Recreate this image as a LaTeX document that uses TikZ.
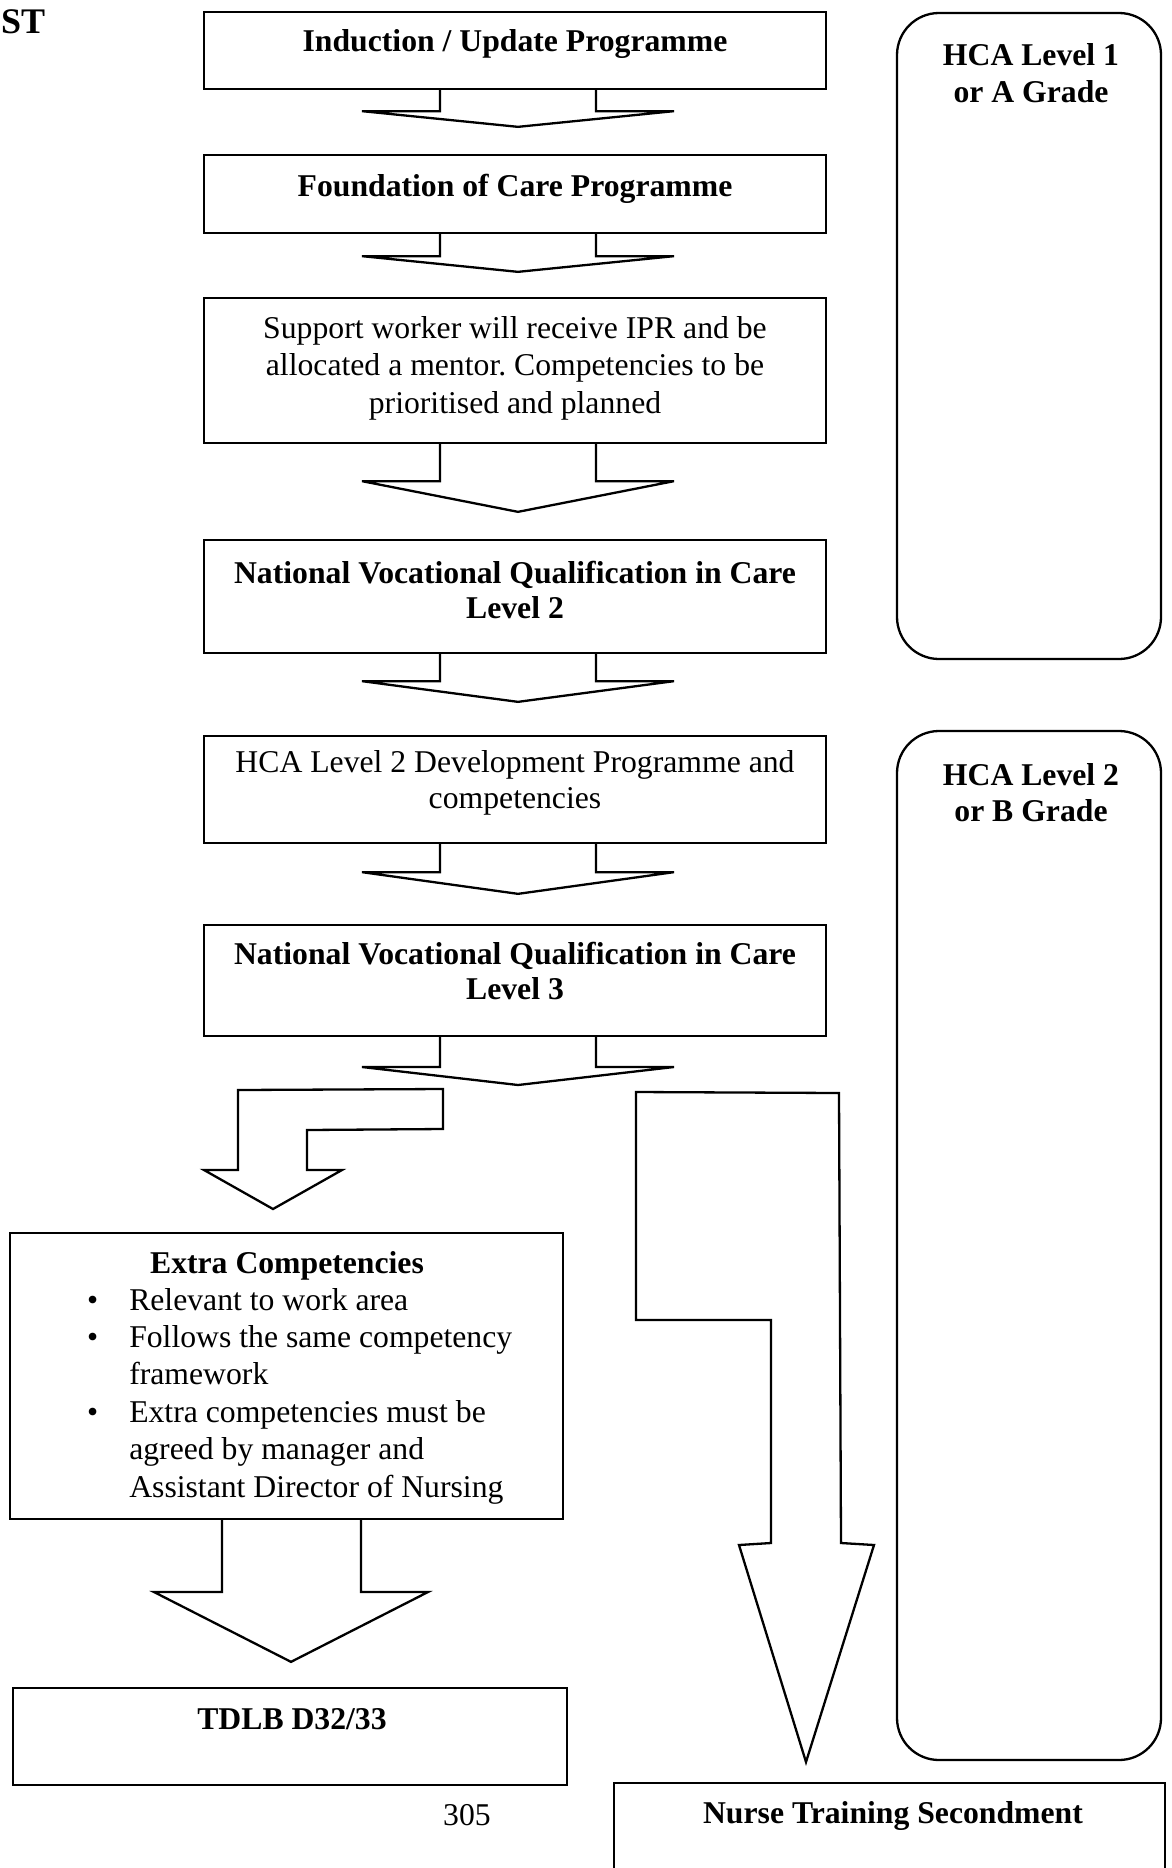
\documentclass[tikz,border=0pt]{standalone}
\usepackage{fontspec}
\setmainfont{Liberation Serif}
\usetikzlibrary{calc}
\frenchspacing
\newcommand\rmsize{\fontsize{31.7}{36}\selectfont}
\newcommand\stack[1]{\begin{tabular}[t]{@{}c@{}}#1\end{tabular}}
% block arrow from node #1 to node #2: stem half width #3, wing half width #4, stem length #5, gap above target #6
\newcommand\blkarrow[6]{%
  \draw[outline] let \p1=(#1.south), \p2=(#2.north) in
    (\x1+3pt-#3pt,\y1) -- (\x1+3pt-#3pt,\y1-#5pt) -- (\x1+3pt-#4pt,\y1-#5pt) -- (\x1+3pt,\y2+#6pt)
    -- (\x1+3pt+#4pt,\y1-#5pt) -- (\x1+3pt+#3pt,\y1-#5pt) -- (\x1+3pt+#3pt,\y1);}
\begin{document}
\begin{tikzpicture}[x=1pt,y=-1pt,
  outline/.style={draw=black, line width=2.3pt, line join=miter},
  box/.style={outline, rectangle, inner sep=0pt},
  rbox/.style={outline, rectangle, rounded corners=42pt, inner sep=0pt, minimum width=264pt},
  txt/.style={anchor=base, inner sep=0pt, font=\rmsize},
  bf/.style={txt, font=\rmsize\bfseries}]
\useasboundingbox (0,0) rectangle (1172,1868);
\clip (0,0) rectangle (1172,1868);
\fill[white] (0,0) rectangle (1172,1868);

% header fragment
\node[anchor=base west, inner sep=0pt, font=\fontsize{36}{36}\selectfont\bfseries] (st) at (1,34) {ST};

% main column boxes
\node[box, minimum width=622pt, minimum height=77pt]  (b1) at (515,50.5) {};
\node[box, minimum width=622pt, minimum height=78pt]  (b2) at (515,194) {};
\node[box, minimum width=622pt, minimum height=145pt] (b3) at (515,370.5) {};
\node[box, minimum width=622pt, minimum height=113pt] (b4) at (515,596.5) {};
\node[box, minimum width=622pt, minimum height=107pt] (b5) at (515,789.5) {};
\node[box, minimum width=622pt, minimum height=111pt] (b6) at (515,980.5) {};

\node[bf] (t1) at (515,52) {Induction / Update Programme};
\node[bf] (t2) at (515,196) {Foundation of Care Programme};
\node[txt, font=\fontsize{31.7}{37.5}\selectfont] (t3) at (515,338) {\stack{Support worker will receive IPR and be\\ allocated a mentor. Competencies to be\\ prioritised and planned}};
\node[bf, font=\fontsize{31.7}{35}\selectfont\bfseries] (t4) at (515,583) {\stack{National Vocational Qualification in Care\\ Level 2}};
\node[txt] (t5) at (515,772) {\stack{HCA Level 2 Development Programme and\\ competencies}};
\node[bf, font=\fontsize{31.7}{35}\selectfont\bfseries] (t6) at (515,964) {\stack{National Vocational Qualification in Care\\ Level 3}};

% block arrows between boxes
\blkarrow{b1}{b2}{78}{156}{21}{27}
\blkarrow{b2}{b3}{78}{156}{22}{25}
\blkarrow{b3}{b4}{78}{156}{37}{27}
\blkarrow{b4}{b5}{78}{156}{27}{33}
\blkarrow{b5}{b6}{78}{156}{28}{30}

% lower boxes
\node[box, minimum width=553pt, minimum height=286pt] (ext) at (286.5,1376) {};
\node[box, minimum width=554pt, minimum height=97pt]  (tdlb) at (290,1736.5) {};
\node[box, minimum width=551pt, minimum height=140pt] (nurse) at (889.5,1853) {};

\node[bf] (tx) at (287,1273) {Extra Competencies};
\node[anchor=base west, inner sep=0pt, font=\fontsize{31.7}{37.4}\selectfont] (list) at (87,1310)
  {\begin{tabular}[t]{@{}l@{\hspace{31pt}}l@{}}
   \textbullet & Relevant to work area\\
   \textbullet & Follows the same competency\\
               & framework\\
   \textbullet & Extra competencies must be\\
               & agreed by manager and\\
               & Assistant Director of Nursing
   \end{tabular}};
\node[bf] (tt) at (292,1729) {TDLB D32/33};
\node[bf] (tn) at (893,1823) {Nurse Training Secondment};
\node[txt] (pg) at (467,1825) {305};

% arrow out of b6
\draw[outline] let \p1=(b6.south) in
  (\x1+3pt-78pt,\y1) -- (\x1+3pt-78pt,-1067pt) -- (\x1+3pt-156pt,-1067pt) -- (\x1+3pt,-1085pt)
  -- (\x1+3pt+156pt,-1067pt) -- (\x1+3pt+78pt,-1067pt) -- (\x1+3pt+78pt,\y1);

% bent arrow to Extra Competencies
\draw[outline] (238,1090) -- (443,1089) -- (443,1129) -- (307,1130) -- (307,1170)
  -- (342,1170) -- (273,1209) -- (204,1170) -- (238,1170) -- cycle;

% long arrow to Nurse Training Secondment
\draw[outline] (636,1092) -- (839,1093) -- (841,1543) -- (874,1545) -- (806,1762)
  -- (739,1545) -- (771,1543) -- (771,1320) -- (636,1320) -- cycle;

% arrow from Extra Competencies to TDLB
\draw[outline] let \p1=(ext.south), \p2=(tdlb.north) in
  (222,\y1) -- (222,1592) -- (154,1592) -- (291,\y2+25pt) -- (428,1592) -- (361,1592) -- (361,\y1);

% grade panels
\node[rbox, minimum height=646pt]  (l1) at (1029,336) {};
\node[rbox, minimum height=1029pt] (l2) at (1029,1245.5) {};
\node[bf] (tl1) at (1031,66) {\stack{HCA Level 1\\ or A Grade}};
\node[bf] (tl2) at (1031,785) {\stack{HCA Level 2\\ or B Grade}};
\end{tikzpicture}
\end{document}
